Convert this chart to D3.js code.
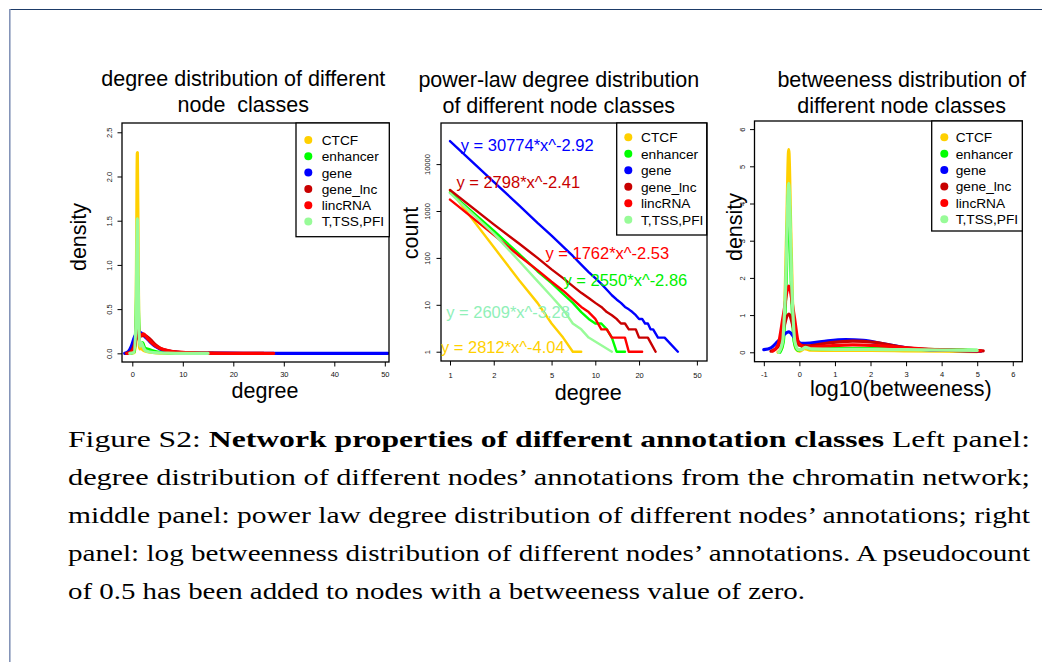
<!DOCTYPE html>
<html>
<head>
<meta charset="utf-8">
<script src="https://cdn.jsdelivr.net/npm/d3@7"></script>
<style>
  body { margin: 0; background: #fff; }
  svg { display: block; }
  .pre { white-space: pre; }
</style>
</head>
<body>
<svg id="fig" width="1042" height="662"></svg>
<script>
// ---- data ----
var classes = ["CTCF", "enhancer", "gene", "gene_lnc", "lincRNA", "T,TSS,PFI"];
var classColors = ["#FFD000", "#00FF00", "#0000FF", "#C80000", "#FF0000", "#98FB98"];

// left: density of node degree, [degree, density]
var degDensCTCF = [[-0.3,0],[0.4,0.01],[0.7,0.2],[0.85,1.2],[1.0,2.27],[1.15,1.2],[1.3,0.2],[1.5,0.05],[1.7,0.07],[1.9,0.05],[2.3,0.03],[3,0.02],[4,0.01],[5,0.005],[6,0.002],[8,0]];
var degDensEnhancer = [[-0.4,0],[0.4,0.02],[0.75,0.4],[1.0,0.9],[1.25,0.4],[1.5,0.1],[2.0,0.12],[2.5,0.06],[3,0.05],[4,0.03],[5,0.015],[7,0.005],[10,0.002],[16,0]];
var degDensGene = [[-1.5,0],[-0.8,0.02],[-0.2,0.08],[0.4,0.18],[1.1,0.245],[1.8,0.23],[2.5,0.19],[3.5,0.13],[4.5,0.08],[5.5,0.05],[7,0.025],[9,0.012],[12,0.005],[16,0.002],[22,0.001],[30,0],[50.6,0]];
var degDensGeneLnc = [[-1.2,0],[-0.5,0.01],[0.3,0.08],[0.8,0.17],[1.0,0.2],[1.3,0.17],[1.7,0.2],[2.5,0.2],[3.5,0.16],[4.5,0.1],[5.5,0.06],[7,0.03],[9,0.015],[12,0.006],[16,0.002],[20,0],[26,0]];
var degDensLinc = [[-1,0],[-0.3,0.01],[0.4,0.06],[0.75,0.25],[1.0,0.68],[1.25,0.28],[1.6,0.2],[2.2,0.22],[3,0.17],[4,0.11],[5,0.07],[6,0.045],[8,0.02],[10,0.01],[14,0.003],[18,0],[28,0]];
var degDensTSS = [[-0.5,0],[0.3,0.01],[0.7,0.3],[0.87,1.0],[1.0,1.52],[1.13,1.0],[1.3,0.3],[1.55,0.08],[1.8,0.12],[2.1,0.08],[2.6,0.03],[3.5,0.015],[5,0.005],[7,0.002],[10,0],[15,0]];
var degDensTicksX = [0, 10, 20, 30, 40, 50];
var degDensTicksY = [0, 0.5, 1, 1.5, 2, 2.5];

// middle: node count per degree, [degree, count]
var degCountCTCF = [[1,2800],[2,170],[3,33],[4,11],[5,4],[6,2],[7,1],[8,1]];
var degCountEnhancer = [[1,2500],[2,380],[3,120],[4,52],[5,29],[6,17],[7,11],[8,7],[9,5],[10,4],[11,4],[12,3],[13,2],[14,1],[16,1]];
var degCountGene = [[1,31000],[2,4200],[3,1300],[4,560],[5,300],[6,175],[7,110],[8,72],[9,50],[10,37],[11,28],[12,21],[13,16],[14,13],[15,11],[16,9],[17,8],[18,7],[19,6],[20,5],[21,5],[22,4],[23,4],[24,3],[25,3],[27,2],[30,2],[37,1]];
var degCountGeneLnc = [[1,2800],[2,520],[3,200],[4,100],[5,57],[6,37],[7,25],[8,18],[9,14],[10,11],[11,9],[12,7],[13,6],[14,5],[15,4],[16,4],[17,3],[18,3],[19,3],[20,2],[22,2],[23,2],[26,1]];
var degCountLinc = [[1,1750],[2,310],[3,110],[4,55],[5,31],[6,20],[7,13],[8,9],[9,7],[10,5],[11,3],[12,3],[13,2],[14,2],[16,2],[17,1],[21,1]];
var degCountTSS = [[1,2400],[2,330],[3,85],[4,32],[5,15],[6,8],[7,4],[8,3],[9,2],[13,1]];
var fitLabels = ["y = 2812*x^-4.04", "y = 2550*x^-2.86", "y = 30774*x^-2.92", "y = 2798*x^-2.41", "y = 1762*x^-2.53", "y = 2609*x^-3.28"];
var fitLabelAt = [[2.31,0.96],[16.1,25.2],[3.4,19000],[2.95,3170],[12.1,94.8],[2.51,5.36]];
var degCountTicksX = [1, 2, 5, 10, 20, 50];
var degCountTicksY = [1, 10, 100, 1000, 10000];

// right: density of log10(betweeness), [log10 value, density]
var btwCTCF = [[-0.6,0],[-0.5,0.1],[-0.42,1.0],[-0.36,3.2],[-0.3,5.45],[-0.24,3.2],[-0.18,1.0],[-0.1,0.1],[0,0.03],[0.15,0.1],[0.3,0.06],[1,0.05],[2,0.05],[3,0.04],[4,0.03],[5,0.02]];
var btwEnhancer = [[-0.55,0],[-0.45,0.3],[-0.38,1.6],[-0.3,4.3],[-0.22,1.6],[-0.15,0.3],[-0.05,0.06],[0.05,0.08],[0.17,0.17],[0.3,0.1],[1,0.1],[2,0.1],[3,0.08],[4,0.07],[5,0.05]];
var btwGene = [[-1,0.07],[-0.8,0.12],[-0.6,0.3],[-0.3,0.55],[-0.1,0.35],[0.05,0.24],[0.3,0.25],[0.8,0.31],[1.3,0.34],[1.8,0.32],[2.4,0.22],[3,0.12],[3.6,0.07],[4.2,0.05],[5.1,0.03]];
var btwGeneLnc = [[-0.8,0.03],[-0.6,0.15],[-0.45,0.65],[-0.3,1.03],[-0.15,0.6],[-0.02,0.2],[0.2,0.17],[0.8,0.25],[1.5,0.3],[2.1,0.27],[2.8,0.15],[3.5,0.08],[4.3,0.05],[5.17,0.04]];
var btwLinc = [[-0.75,0.03],[-0.6,0.2],[-0.45,1.0],[-0.3,1.78],[-0.15,1.0],[-0.02,0.25],[0.2,0.13],[0.8,0.17],[1.5,0.2],[2.2,0.18],[3,0.12],[3.8,0.07],[4.6,0.05],[5.1,0.04]];
var btwTSS = [[-0.58,0],[-0.47,0.3],[-0.39,1.7],[-0.3,4.54],[-0.21,1.7],[-0.13,0.3],[-0.03,0.07],[0.07,0.08],[0.17,0.13],[0.35,0.09],[1,0.08],[2,0.08],[3,0.07],[4,0.06],[5,0.05]];
var btwTicksX = [-1, 0, 1, 2, 3, 4, 5, 6];
var btwTicksY = [0, 1, 2, 3, 4, 5, 6];

var captionLines = [
    "degree distribution of different nodes\u2019 annotations from the chromatin network;",
    "middle panel: power law degree distribution of different nodes\u2019 annotations; right",
    "panel: log betweenness distribution of different nodes\u2019 annotations. A pseudocount",
    "of 0.5 has been added to nodes with a betweeness value of zero."
];

// ---- drawing ----
var sans = "'Liberation Sans', Arial, Helvetica, sans-serif";
var svg = d3.select("#fig");

// page frame
svg.append("line").attr("x1", 9).attr("x2", 1042).attr("y1", 9.5).attr("y2", 9.5)
    .attr("stroke", "#1d3b68").attr("stroke-width", 1.2);
svg.append("line").attr("x1", 9.8).attr("x2", 9.8).attr("y1", 9).attr("y2", 662)
    .attr("stroke", "#8494b8").attr("stroke-width", 1.6);

function styleAxis(sel) {
    sel.select(".domain").remove();
    sel.attr("font-size", 7.5).attr("font-family", sans);
    sel.selectAll("line").attr("stroke", "#000");
    sel.selectAll("text").attr("fill", "#111");
}

function addTitle(lines, cx, ys) {
    lines.forEach(function (t, i) {
        svg.append("text").attr("class", "pre").attr("x", cx).attr("y", ys[i])
            .attr("text-anchor", "middle").attr("font-family", sans)
            .attr("font-size", 21.5).text(t);
    });
}

function addLegend(x0, y0, x1, y1, dotX, textX, firstY, step) {
    var lg = svg.append("g");
    lg.append("rect").attr("x", x0).attr("y", y0).attr("width", x1 - x0).attr("height", y1 - y0)
        .attr("fill", "#fff").attr("stroke", "#000").attr("stroke-width", 1.3);
    classes.forEach(function (c, i) {
        lg.append("circle").attr("cx", dotX).attr("cy", firstY + i * step).attr("r", 4)
            .attr("fill", classColors[i]);
        lg.append("text").attr("x", textX).attr("y", firstY + i * step).attr("dy", "0.36em")
            .attr("font-family", sans).attr("font-size", 13.7).text(c);
    });
}

function panel(box, x, y, xticks, yticks, xfmt, yfmt, xpad, ylabOff) {
    var g = svg.append("g");
    g.append("clipPath").attr("id", "clip" + box[0])
        .append("rect").attr("x", box[0]).attr("y", box[1])
        .attr("width", box[2] - box[0]).attr("height", box[3] - box[1]);
    g.append("g").attr("transform", "translate(0," + box[3] + ")")
        .call(d3.axisBottom(x).tickValues(xticks).tickSize(4.5).tickPadding(xpad).tickFormat(xfmt))
        .call(styleAxis);
    g.append("g").attr("transform", "translate(" + box[0] + ",0)")
        .call(d3.axisLeft(y).tickValues(yticks).tickSize(4.5).tickFormat(yfmt))
        .call(styleAxis)
        .selectAll("text").attr("x", 0).attr("y", 0).attr("dy", null)
        .attr("text-anchor", "middle")
        .attr("transform", "translate(" + ylabOff + ",0) rotate(-90)");
    return g;
}

function drawBox(g, box) {
    g.append("rect").attr("x", box[0]).attr("y", box[1])
        .attr("width", box[2] - box[0]).attr("height", box[3] - box[1])
        .attr("fill", "none").attr("stroke", "#000").attr("stroke-width", 1.3);
}

function drawSeries(g, box, x, y, seriesList, curve, width) {
    var line = d3.line().x(function (d) { return x(d[0]); }).y(function (d) { return y(d[1]); }).curve(curve);
    var lg = g.append("g").attr("clip-path", "url(#clip" + box[0] + ")");
    seriesList.forEach(function (s, i) {
        lg.append("path").datum(s).attr("d", line).attr("fill", "none")
            .attr("stroke", classColors[i]).attr("stroke-width", width)
            .attr("stroke-linejoin", "round").attr("stroke-linecap", "round");
    });
}

// left panel
var boxL = [122, 123, 389, 362];
var xL = d3.scaleLinear().domain([-2.04, 50.83]).range([boxL[0], boxL[2]]);
var yL = d3.scaleLinear().domain([-0.098, 2.605]).range([boxL[3], boxL[1]]);
var gL = panel(boxL, xL, yL, degDensTicksX, degDensTicksY, d3.format("d"), d3.format(".1f"), 5, -10);
drawSeries(gL, boxL, xL, yL, [degDensCTCF, degDensEnhancer, degDensGene, degDensGeneLnc, degDensLinc, degDensTSS], d3.curveMonotoneX, 3.2);
drawBox(gL, boxL);
addTitle(["degree distribution of different", "node  classes"], 243.3, [85.5, 112]);
svg.append("text").attr("x", 265).attr("y", 397.5).attr("text-anchor", "middle")
    .attr("font-family", sans).attr("font-size", 21.5).text("degree");
svg.append("text").attr("transform", "translate(86,237) rotate(-90)").attr("text-anchor", "middle")
    .attr("font-family", sans).attr("font-size", 21.5).text("density");
addLegend(296, 123, 389.3, 236.7, 308.3, 321.7, 140, 16.3);

// middle panel
var boxM = [441, 123, 707, 361];
var xM = d3.scaleLog().domain([0.867, 58.7]).range([boxM[0], boxM[2]]);
var yM = d3.scaleLog().domain([0.634, 75200]).range([boxM[3], boxM[1]]);
var gM = panel(boxM, xM, yM, degCountTicksX, degCountTicksY, String, String, 7, -11);
drawSeries(gM, boxM, xM, yM, [degCountCTCF, degCountEnhancer, degCountGene, degCountGeneLnc, degCountLinc, degCountTSS], d3.curveLinear, 2.4);
drawBox(gM, boxM);
var fitColors = ["#FFD000", "#00F000", "#0000FF", "#C80000", "#FF0000", "#90F0B8"];
fitLabels.forEach(function (t, i) {
    svg.append("text").attr("x", xM(fitLabelAt[i][0])).attr("y", yM(fitLabelAt[i][1]))
        .attr("text-anchor", "middle").attr("font-family", sans).attr("font-size", 16.5)
        .attr("fill", fitColors[i]).text(t);
});
addTitle(["power-law degree distribution", "of different node classes"], 558.8, [86.5, 113.3]);
svg.append("text").attr("x", 588.3).attr("y", 399.5).attr("text-anchor", "middle")
    .attr("font-family", sans).attr("font-size", 21.5).text("degree");
svg.append("text").attr("transform", "translate(418,233) rotate(-90)").attr("text-anchor", "middle")
    .attr("font-family", sans).attr("font-size", 21.5).text("count");
addLegend(616.7, 123, 706.7, 235, 628.3, 641, 137.3, 16.5);

// right panel
var boxR = [754.5, 121, 1022.3, 361.7];
var xR = d3.scaleLinear().domain([-1.262, 6.268]).range([boxR[0], boxR[2]]);
var yR = d3.scaleLinear().domain([-0.253, 6.218]).range([boxR[3], boxR[1]]);
var gR = panel(boxR, xR, yR, btwTicksX, btwTicksY, String, String, 5, -10);
drawSeries(gR, boxR, xR, yR, [btwCTCF, btwEnhancer, btwGene, btwGeneLnc, btwLinc, btwTSS], d3.curveMonotoneX, 3.2);
drawBox(gR, boxR);
addTitle(["betweeness distribution of", "different node classes"], 901.7, [86.7, 113.3]);
svg.append("text").attr("x", 900.8).attr("y", 395.7).attr("text-anchor", "middle")
    .attr("font-family", sans).attr("font-size", 21.5).text("log10(betweeness)");
svg.append("text").attr("transform", "translate(742,227) rotate(-90)").attr("text-anchor", "middle")
    .attr("font-family", sans).attr("font-size", 21.5).text("density");
addLegend(931.7, 121, 1022.3, 231, 944.3, 955.7, 137.3, 16.4);

// caption
var serif = "'Liberation Serif', 'Times New Roman', serif";
var cap1 = svg.append("text").attr("x", 68).attr("y", 446.7)
    .attr("font-family", serif).attr("font-size", 24)
    .attr("textLength", 962).attr("lengthAdjust", "spacingAndGlyphs");
cap1.append("tspan").text("Figure S2: ");
cap1.append("tspan").attr("font-weight", "bold").text("Network properties of different annotation classes");
cap1.append("tspan").text(" Left panel:");
var capY = [485, 523.3, 561.3, 599];
var capW = [962, 962, 962, 737];
captionLines.forEach(function (t, i) {
    svg.append("text").attr("x", 68).attr("y", capY[i])
        .attr("font-family", serif).attr("font-size", 24)
        .attr("textLength", capW[i]).attr("lengthAdjust", "spacingAndGlyphs")
        .text(t);
});
</script>
</body>
</html>
